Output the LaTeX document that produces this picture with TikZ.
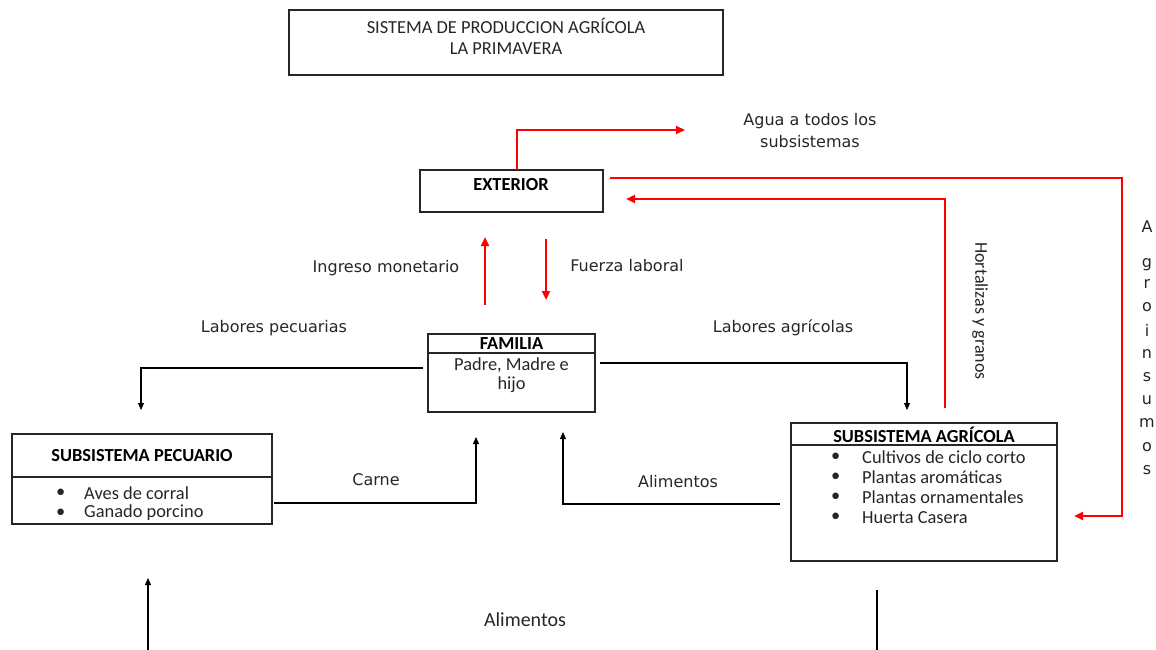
\documentclass[tikz,border=0pt]{standalone}
\usepackage{fontspec}
\setmainfont{Carlito}
\newfontfamily\labelfont{DejaVu Sans}
\usetikzlibrary{arrows.meta}
\begin{document}
\begin{tikzpicture}[x=1pt,y=-1pt,
  box/.style={draw=black!85, line width=1.1pt, inner sep=0pt, outer sep=0pt},
  boxtext/.style={font=\fontsize{18.4}{21}\selectfont, inner sep=0pt, align=center, text=black!85},
  boldtext/.style={font=\fontsize{18.4}{21}\selectfont\bfseries, inner sep=0pt},
  item/.style={font=\fontsize{18.4}{21}\selectfont, inner sep=0pt, anchor=west, text=black!85},
  lbl/.style={font=\labelfont\fontsize{16}{22}\selectfont, inner sep=0pt, align=center, text=black!85},
  redflow/.style={draw=red, line width=2.2pt, -{Triangle[length=9pt,width=8pt]}},
  blackflow/.style={draw=black, line width=1.1pt, -{Triangle[length=7pt,width=6pt]}},
  blackline/.style={draw=black, line width=1.1pt}
]
\useasboundingbox (0,0) rectangle (1156,650);

% title
\node[box, minimum width=434pt, minimum height=65pt] (title) at (506,42.5) {};
\node[boxtext] (titletext) at (506,36) {SISTEMA DE PRODUCCION AGRÍCOLA\\LA PRIMAVERA};

% exterior
\node[box, minimum width=183pt, minimum height=42pt] (ext) at (511.5,191) {};
\node[boldtext] (exttext) at (511,185) {EXTERIOR};

% familia
\node[box, minimum width=167pt, minimum height=19pt] (famh) at (511.5,343.5) {};
\node[box, minimum width=167pt, minimum height=59pt, anchor=north] (famb) at (famh.south) {};
\node[boldtext] (famtitle) at (511.5,344) {FAMILIA};
\node[boxtext, font=\fontsize{18.4}{19}\selectfont] (famtext) at (511.5,375) {Padre, Madre e\\hijo};

% subsistema pecuario
\node[box, minimum width=260pt, minimum height=43pt] (pech) at (142,455.5) {};
\node[box, minimum width=260pt, minimum height=47pt, anchor=north] (pecb) at (pech.south) {};
\node[boldtext] (pectitle) at (142,456) {SUBSISTEMA PECUARIO};
\foreach \t [count=\i] in {Aves de corral, Ganado porcino} {
  \node[item] (pecb\i) at (56,473+20*\i) {•};
  \node[item] (peci\i) at (84,473+20*\i) {\t};
}

% subsistema agricola
\node[box, minimum width=266pt, minimum height=22pt] (agrh) at (924,434) {};
\node[box, minimum width=266pt, minimum height=116pt, anchor=north] (agrb) at (agrh.south) {};
\node[boldtext] (agrtitle) at (924,435) {SUBSISTEMA AGRÍCOLA};
\foreach \t [count=\i] in {Cultivos de ciclo corto, Plantas aromáticas, Plantas ornamentales, Huerta Casera} {
  \node[item] (agrbul\i) at (831,436.5+20.3*\i) {•};
  \node[item] (agri\i) at (862,436.5+20.3*\i) {\t};
}

% labels
\node[lbl] (agua) at (810,131) {Agua a todos los\\subsistemas};
\node[lbl] (ingreso) at (386,268) {Ingreso monetario};
\node[lbl] (fuerza) at (627,266) {Fuerza laboral};
\node[lbl] (labpec) at (274,328) {Labores pecuarias};
\node[lbl] (labagr) at (783,328) {Labores agrícolas};
\node[lbl] (carne) at (376,480) {Carne};
\node[lbl] (alim1) at (678,482) {Alimentos};
\node[font=\fontsize{20}{22}\selectfont, inner sep=0pt, text=black!85] (alim2) at (525,620) {Alimentos};
\node[font=\fontsize{18}{20}\selectfont, inner sep=0pt, rotate=-90, text=black!85] (hort) at (980,311) {Hortalizas y granos};
\foreach \c/\y [count=\i] in {A/227, g/265, r/284, o/307, i/330, n/354, s/377, u/400, m/423, o/447, s/470} {
  \node[lbl] (agro\i) at (1147,\y) {\c};
}

% flow endpoints
\coordinate (aguaend) at (685,130);
\coordinate (agroout) at (610,178);
\coordinate (agroin) at (1074,516);
\coordinate (hortend) at (626,199);
\coordinate (ingfrom) at (485,305);
\coordinate (ingto) at (485,237);
\coordinate (fuefrom) at (546,239);
\coordinate (fueto) at (546,300);
\coordinate (lpfrom) at (423,368);
\coordinate (lpto) at (141,410);
\coordinate (lafrom) at (600,363);
\coordinate (lato) at (907,410);
\coordinate (carfrom) at (274,503);
\coordinate (carto) at (476,437);
\coordinate (alfrom) at (780,504);
\coordinate (alto) at (563,432);
\coordinate (botfrom) at (148,650);
\coordinate (botto) at (148,578);
\coordinate (botl1) at (877,590);
\coordinate (botl2) at (877,650);

% red flows
\draw[redflow] (ext.north -| 517,0) |- (aguaend);
\draw[redflow] (agroout) -| (1122,300) |- (agroin);
\draw[redflow] (agrh.north -| 945,0) ++(0,-15) |- (hortend);
\draw[redflow] (ingfrom) -- (ingto);
\draw[redflow] (fuefrom) -- (fueto);

% black flows
\draw[blackflow] (lpfrom) -| (lpto);
\draw[blackflow] (lafrom) -| (lato);
\draw[blackflow] (carfrom) -| (carto);
\draw[blackflow] (alfrom) -| (alto);
\draw[blackflow] (botfrom) -- (botto);
\draw[blackline] (botl1) -- (botl2);
\end{tikzpicture}
\end{document}
